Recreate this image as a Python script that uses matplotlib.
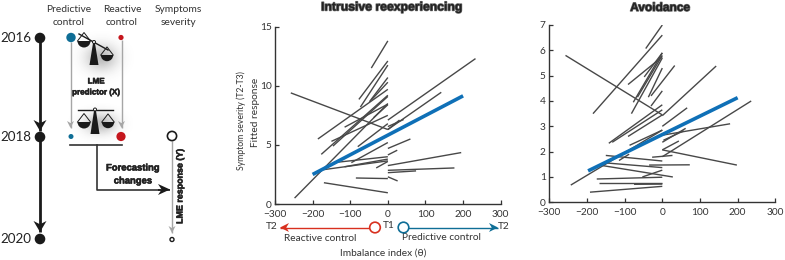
import numpy as np
import matplotlib
matplotlib.use('Agg')
import matplotlib.pyplot as plt
import matplotlib.patches as mpatches
import matplotlib.patheffects as pe

plt.rcParams['font.family'] = ['Lato', 'DejaVu Sans']

# -- data: per-subject fitted lines (x0, x1, y0, y1) -------------------------
intr_x0 = [-258, -248, 0, -44, -77, -73, -49, -44, -186, -177, -146, -150, -115, -38, -80,
           -144, -115, -97, -172, -31, -85, -170,
           0, 0, 0, 0, 0, 0, 0, 0, 0]
intr_x1 = [0, 0, 233, 0, 0, 0, 0, 0, 0, 0, 0, 0, 0, 0, 0,
           0, 0, 0, 0, 0, 0, 0,
           142, 42, 31, 60, 25, 195, 177, 75, 26]
intr_y0 = [9.4, 0.5, 7.1, 11.5, 8.85, 8.2, 8.65, 8.8, 5.5, 4.2, 4.9, 5.3, 6.5, 7.3, 4.85,
           3.5, 3.15, 3.5, 2.9, 3.05, 2.2, 1.8,
           6.3, 6.55, 6.3, 4.7, 4.15, 3.25, 2.85, 2.65, 2.3]
intr_y1 = [6.3, 8.5, 12.3, 13.8, 12.1, 11.75, 10.7, 10.3, 9.7, 9.2, 9.1, 7.5, 8.45, 8.4, 6.8,
           4.0, 3.8, 5.2, 3.65, 3.6, 2.15, 0.95,
           9.45, 7.15, 7.1, 5.5, 4.55, 4.35, 3.05, 2.8, 1.95]
intr_fit_x = [-200, 200]
intr_fit_y = [2.5, 9.15]

avoid_x0 = [-257, -184, -44, -91, -77, -82, -66, -48, -37, -30, -30, -142, -133, -91, -87,
            -243, -150, -115, -146, -159, -53, -35, -174, -168, -75, -192,
            0, 0, 0, 0, 3, 0, 0, 0, -27]
avoid_x1 = [0, 0, 0, 0, 0, 0, 0, 0, 0, 0, 33, 0, 0, 0, 0,
            0, 0, -88, 0, 28, 0, 73, 0, 0, 0, 0,
            143, 66, 180, 62, 57, 44, 236, 198, 27]
avoid_y0 = [5.8, 3.5, 6.07, 4.65, 3.95, 3.5, 4.15, 4.95, 4.15, 3.8, 4.2, 2.33, 2.37, 2.6, 2.25,
            0.68, 1.85, 1.65, 1.55, 1.45, 1.0, 1.47, 0.92, 0.75, 0.71, 0.4,
            3.42, 3.0, 2.65, 2.37, 2.45, 2.07, 1.8, 2.07, 1.78]
avoid_y1 = [3.45, 6.6, 7.0, 5.75, 5.9, 5.7, 5.8, 5.9, 5.3, 4.4, 5.4, 3.85, 3.65, 3.45, 2.85,
            2.85, 1.63, 1.9, 1.37, 1.0, 1.27, 1.48, 0.99, 0.75, 0.72, 0.63,
            5.38, 3.73, 3.1, 2.92, 2.82, 2.42, 4.0, 1.47, 1.85]
avoid_fit_x = [-197, 200]
avoid_fit_y = [1.24, 4.13]

x_ticks = [-300, -200, -100, 0, 100, 200, 300]
intr_y_ticks = [0, 5, 10, 15]
avoid_y_ticks = [0, 1, 2, 3, 4, 5, 6, 7]

years = ['2016', '2018', '2020']
year_y = [38, 137, 239]

DARK = '#484848'
BLUE = '#0f70b7'
TEAL = '#0f6e96'
RED = '#c5161d'
GREY = '#a6a6a6'
TXT = '#333333'
W, H = 785, 260

fig = plt.figure(figsize=(W / 100, H / 100), dpi=100)

# canvas in pixels for the schematic
bg = fig.add_axes([0, 0, 1, 1])
bg.set_xlim(0, W)
bg.set_ylim(H, 0)
bg.axis('off')


def arrow(x0, y0, x1, y1, color, lw, head=(6, 3)):
    bg.plot([x0, x1], [y0, y1], color=color, lw=lw, solid_capstyle='butt')
    d = np.array([x1 - x0, y1 - y0], float)
    d /= np.hypot(*d)
    n = np.array([-d[1], d[0]])
    tip = np.array([x1, y1])
    base = tip - d * head[0]
    bg.add_patch(mpatches.Polygon([tip, base + n * head[1], tip - d * head[0] * 0.7, base - n * head[1]],
                                  closed=True, fc=color, ec='none', zorder=3))


def dot(x, y, r, fc, ec='none', lw=0):
    bg.add_patch(mpatches.Circle((x, y), r, fc=fc, ec=ec, lw=lw, zorder=4))


def shadow(cx, cy, sx, sy):
    xx, yy = np.meshgrid(np.arange(W), np.arange(H))
    a = np.exp(-((xx - cx) ** 2 / (2 * sx ** 2) + (yy - cy) ** 2 / (2 * sy ** 2)))
    img = np.zeros((H, W, 4))
    img[..., :3] = 0.25
    img[..., 3] = 0.35 * a
    bg.imshow(img, extent=(0, W, H, 0), aspect='auto', zorder=0, interpolation='bilinear')
    bg.set_xlim(0, W)
    bg.set_ylim(H, 0)


def pan(cx, top, r):
    bg.add_patch(mpatches.Wedge((cx, top), r, 0, 180, fc='#1a1a1a', ec='none', zorder=3))
    bg.plot([cx - r, cx, cx + r], [top, top - r * 1.3, top], color='#1a1a1a', lw=0.7, zorder=3)


def scales(beam, pivot, base_y, left, right):
    bg.plot(beam[0], beam[1], color='#1a1a1a', lw=1.0, zorder=3)
    bg.add_patch(mpatches.Polygon([[pivot[0] - 0.8, pivot[1]], [pivot[0] + 0.8, pivot[1]],
                                   [pivot[0] + 4.5, base_y], [pivot[0] - 4.5, base_y]],
                                  closed=True, fc='#1a1a1a', ec='none', zorder=3))
    dot(pivot[0], pivot[1], 1.5, 'white', '#1a1a1a', 0.7)
    pan(*left)
    pan(*right)


# timeline
for y, lab in zip(year_y, years):
    dot(40, y, 5.3, '#1a1a1a')
    bg.text(15.5, y, lab, fontsize=9.6, ha='center', va='center', color='#222222')
arrow(40, year_y[0], 40, 131, '#1a1a1a', 2.0, (11, 6.5))
arrow(40, year_y[1], 40, 232, '#1a1a1a', 2.0, (11, 6.5))

# column heads
for x, l1, l2 in [(69, 'Predictive', 'control'), (122, 'Reactive', 'control'), (178, 'Symptoms', 'severity')]:
    bg.text(x, 9.5, l1, fontsize=7.4, ha='center', va='center', color=TXT)
    bg.text(x, 22.5, l2, fontsize=7.4, ha='center', va='center', color=TXT)

# predictor columns
arrow(70.5, 42, 70.5, 128, GREY, 1.0, (7, 3.5))
arrow(121.5, 40, 121.5, 128, GREY, 1.0, (7, 3.5))
dot(71, 37.5, 4.7, TEAL)
dot(121, 37.5, 2.6, RED)
dot(71, 136.5, 2.5, TEAL)
dot(121, 136.5, 4.6, RED)

shadow(101, 57, 11, 9)
shadow(100, 123, 11, 7)
scales(([79, 108], [34, 50]), (94, 42), 65, (84, 41, 6.5), (107, 55, 6.2))
scales(([78, 113], [109.5, 109.5]), (95, 109.5), 134, (84, 122, 6.5), (108, 122, 6.2))

bold = dict(family=['Liberation Sans Narrow', 'Liberation Sans', 'DejaVu Sans'], fontweight='bold',
            ha='center', va='center', color='#222222')
thick = [pe.withStroke(linewidth=0.4, foreground='#222222')]
bg.text(96, 82, 'LME', fontsize=5.8, path_effects=thick, **bold)
bg.text(96, 93, 'predictor (X)', fontsize=5.8, path_effects=thick, **bold)
bg.text(133, 168, 'Forecasting', fontsize=6.8, path_effects=thick, **bold)
bg.text(133, 181, 'changes', fontsize=6.8, path_effects=thick, **bold)
bg.text(180, 186, 'LME response (Y)', fontsize=6.4, rotation=90, path_effects=thick, **bold)

# forecasting bracket
bg.plot([70, 122], [145, 145], color='#333333', lw=1.2)
bg.plot([97, 97, 160], [145, 189.5, 189.5], color='#333333', lw=1.2)
arrow(158, 189.5, 170, 189.5, '#1a1a1a', 1.2, (12, 5.5))

# response column
arrow(172, 141, 172, 233, GREY, 1.0, (7, 3.5))
dot(172, 136, 4.6, 'white', '#1a1a1a', 1.2)
dot(172, 239.5, 2.0, 'white', '#1a1a1a', 1.0)


def panel(px0, px1, py0, py1, ylim, yticks, xs0, xs1, ys0, ys1, fit_x, fit_y):
    ax = fig.add_axes([px0 / W, 1 - py0 / H, (px1 - px0) / W, (py0 - py1) / H])
    for x0, x1, y0, y1 in zip(xs0, xs1, ys0, ys1):
        ax.plot([x0, x1], [y0, y1], color=DARK, lw=1.0, solid_capstyle='butt')
    ax.plot(fit_x, fit_y, color=BLUE, lw=2.6, solid_capstyle='butt', zorder=5)
    ax.set_xlim(-300, 300)
    ax.set_ylim(0, ylim)
    ax.set_xticks(x_ticks)
    ax.set_yticks(yticks)
    ax.tick_params(direction='in', length=3, width=0.9, labelsize=7.3, colors=TXT)
    ax.tick_params(axis='x', pad=4)
    ax.tick_params(axis='y', pad=2.5)
    for s in ['top', 'right']:
        ax.spines[s].set_visible(False)
    for s in ['left', 'bottom']:
        ax.spines[s].set_linewidth(1.0)
        ax.spines[s].set_color('#333333')
    ax.patch.set_alpha(0)
    return ax


panel(275, 500.7, 204, 26.7, 15, intr_y_ticks, intr_x0, intr_x1, intr_y0, intr_y1, intr_fit_x, intr_fit_y)
panel(549.3, 775.3, 202.3, 25, 7, avoid_y_ticks, avoid_x0, avoid_x1, avoid_y0, avoid_y1, avoid_fit_x, avoid_fit_y)

# titles
shade = [pe.withStroke(linewidth=1.0, foreground='#666666')]
bg.text(392, 7.5, 'Intrusive reexperiencing', fontsize=8.8, path_effects=shade, **bold)
bg.text(660, 8, 'Avoidance', fontsize=8.6, path_effects=shade, **bold)

# axis labels and direction key
lab = dict(ha='center', va='center', color=TXT, fontsize=7.3)
bg.text(241, 120.5, 'Symptom severity (T2-T3)', rotation=90, ha='center', va='center', color=TXT, fontsize=6.2)
bg.text(256, 112, 'Fitted response', rotation=90, **lab)
bg.text(383, 253.5, 'Imbalance index (θ)', **lab)
bg.text(320, 238.5, 'Reactive control', **lab)
bg.text(441, 237.5, 'Predictive control', **lab)
bg.text(272, 226.5, 'T2', **lab)
bg.text(389, 226, 'T1', **lab)
bg.text(504, 226.5, 'T2', **lab)
arrow(372, 227.5, 280, 227.5, '#d8301f', 1.0, (9, 4.5))
arrow(406, 227.5, 498, 227.5, TEAL, 1.0, (9, 4.5))
dot(375, 227.5, 5.3, 'white', '#d8301f', 1.2)
dot(403.5, 227.5, 5.3, 'white', TEAL, 1.2)

fig.savefig('out.png', dpi=100)
